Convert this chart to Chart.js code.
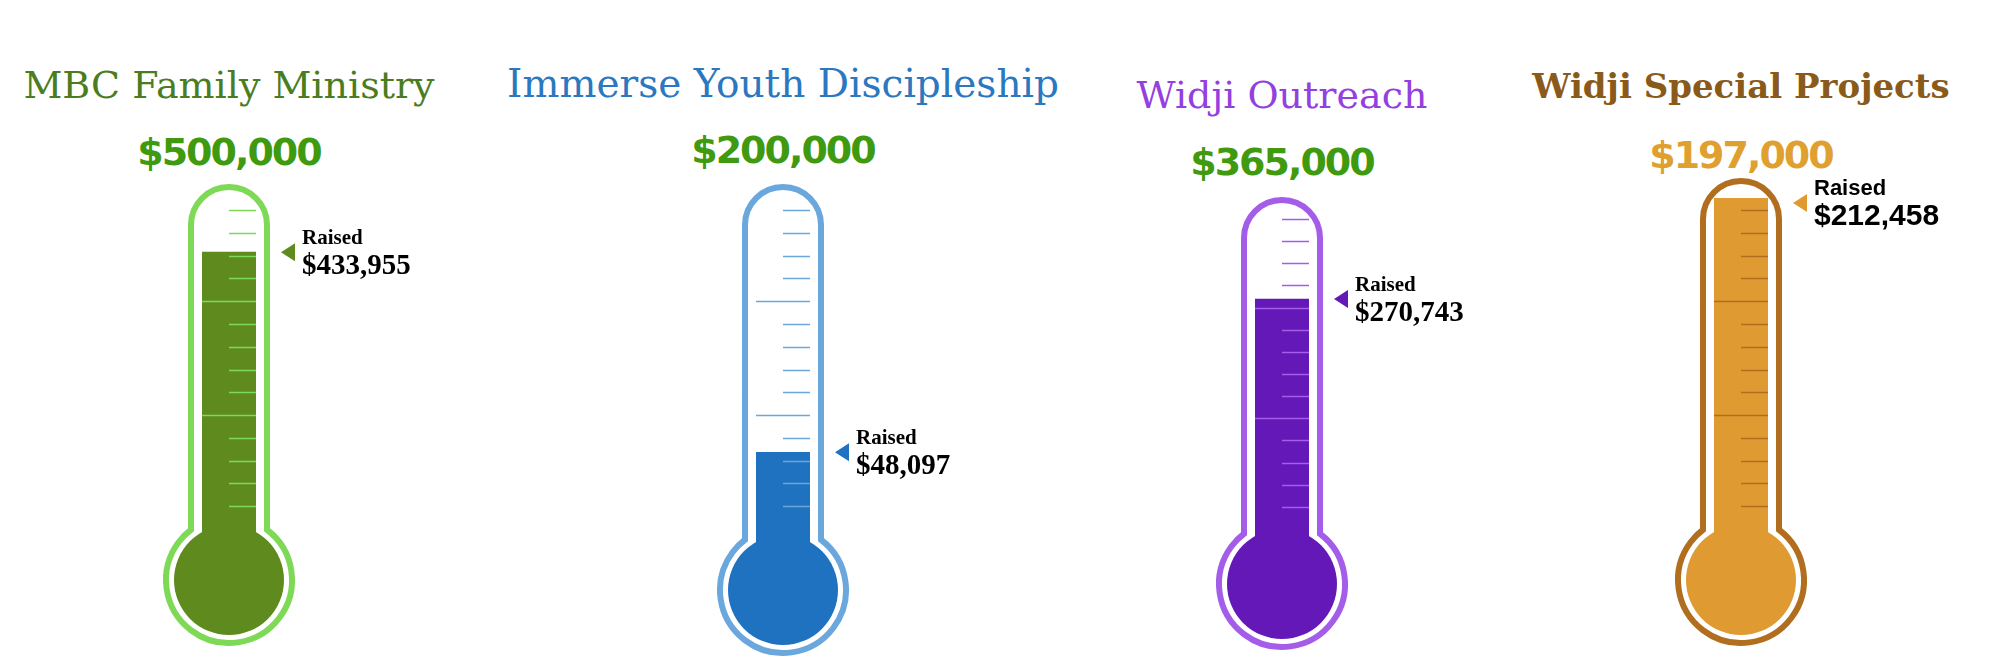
<!DOCTYPE html>
<html><head><meta charset="utf-8">
<script src="https://cdn.jsdelivr.net/npm/chart.js@4"></script>
<style>
body{margin:0;width:2000px;height:658px;background:#fff;position:relative;overflow:hidden}
.t{position:absolute;transform:translateX(-50%);white-space:nowrap;line-height:1}
.c{position:absolute;top:0;width:400px;height:658px}
</style></head><body>
<script>
const titles=["MBC Family Ministry","Immerse Youth Discipleship","Widji Outreach","Widji Special Projects"];
const goals=[500000,200000,365000,197000];
const raised=[433955,48097,270743,212458];
const goalLabels=["$500,000","$200,000","$365,000","$197,000"];
const raisedLabels=["$433,955","$48,097","$270,743","$212,458"];
const titleColors=["#4a7d1f","#2b78c0","#9440e0","#8a5a1a"];
const goalColors=["#3f9a10","#3f9a10","#3f9a10","#e0a030"];
const outlineColors=["#7ed957","#6aa7dc","#a45de8","#b06e1e"];
const fillColors=["#5e8a1e","#1f72c0","#6418b8","#e09a32"];
const layout=[
 {cx:229,tubeTop:187,scaleTop:210,bulbY:580,titleY:82,titleSize:38,goalY:150,font:"serif"},
 {cx:783,tubeTop:187,scaleTop:210,bulbY:590,titleY:80,titleSize:39,goalY:148,font:"serif"},
 {cx:1282,tubeTop:200,scaleTop:219,bulbY:584,titleY:92,titleSize:38,goalY:160,font:"serif"},
 {cx:1741,tubeTop:181,scaleTop:210,bulbY:580,titleY:83,titleSize:34,goalY:153,font:"sans"}
];
const zeroY=529;
layout.forEach((L,i)=>{
 const t=document.createElement('div');t.className='t';t.textContent=titles[i];
 t.style.cssText=`left:${L.cx}px;top:${L.titleY-L.titleSize/2}px;color:${titleColors[i]};font:${L.font=='sans'?'bold ':''}${L.titleSize}px "DejaVu Serif",serif`;
 document.body.appendChild(t);
 const g=document.createElement('div');g.className='t';g.textContent=goalLabels[i];
 g.style.cssText=`left:${L.cx}px;top:${L.goalY-20}px;color:${goalColors[i]};font:bold 38px "DejaVu Sans",sans-serif;letter-spacing:-2px`;
 document.body.appendChild(g);
 const d=document.createElement('div');d.className='c';d.style.left=(L.cx-200)+'px';
 const cv=document.createElement('canvas');d.appendChild(cv);document.body.appendChild(d);
 const plug={id:'thermo',
  beforeDatasetsDraw(ch){
   const c=ch.ctx,cx=200,oc=outlineColors[i];
   c.save();c.lineWidth=6;c.strokeStyle=oc;c.fillStyle='#fff';
   const hw=38,R=63,a=Math.acos(hw/R);
   c.beginPath();c.moveTo(cx-hw,L.tubeTop+hw);
   c.arc(cx,L.tubeTop+hw,hw,Math.PI,0);
   c.lineTo(cx+hw,L.bulbY-Math.sqrt(R*R-hw*hw));
   c.arc(cx,L.bulbY,R,-a,Math.PI+a);c.closePath();c.fill();c.stroke();
   c.fillStyle=fillColors[i];
   c.beginPath();c.arc(cx,L.bulbY,55,0,Math.PI*2);c.fill();
   c.fillRect(cx-27,zeroY-1,54,L.bulbY-zeroY);
   c.restore();
   c.save();c.beginPath();c.rect(cx-27,L.tubeTop+17,54,700);c.clip();
  },
  afterDatasetsDraw(ch){
   const c=ch.ctx,cx=200,y=ch.scales.y;c.restore();
   c.save();c.strokeStyle=outlineColors[i];c.lineWidth=1.5;
   for(let k=1;k<=14;k++){const py=Math.round(y.getPixelForValue(goals[i]*k/14))+0.5;
    c.beginPath();c.moveTo(k%5==0?cx-27:cx,py);c.lineTo(cx+27,py);c.stroke();}
   const top=Math.max(y.getPixelForValue(raised[i]),L.tubeTop+22);
   c.fillStyle=fillColors[i];c.beginPath();c.moveTo(cx+52,top);c.lineTo(cx+66,top-9);c.lineTo(cx+66,top+9);c.closePath();c.fill();
   c.fillStyle='#000';c.textBaseline='alphabetic';
   const sans=L.font=='sans';
   c.font=sans?'bold 22px "Liberation Sans",sans-serif':'bold 21px "Liberation Serif",serif';
   c.fillText('Raised',cx+73,top-8);
   c.font=sans?'bold 30px "Liberation Sans",sans-serif':'bold 29px "Liberation Serif",serif';
   c.fillText(raisedLabels[i],cx+73,top+22);
   c.restore();
  }};
 new Chart(cv,{type:'bar',
  data:{labels:[titles[i]],datasets:[{data:[raised[i]],backgroundColor:fillColors[i],barPercentage:1,categoryPercentage:1,clip:false}]},
  options:{responsive:true,maintainAspectRatio:false,animation:false,
   layout:{padding:{left:173,right:173,top:L.scaleTop,bottom:658-zeroY}},
   plugins:{legend:{display:false},tooltip:{enabled:false}},
   scales:{x:{display:false},y:{display:false,min:0,max:goals[i]}}},
  plugins:[plug]});
});
</script></body></html>
